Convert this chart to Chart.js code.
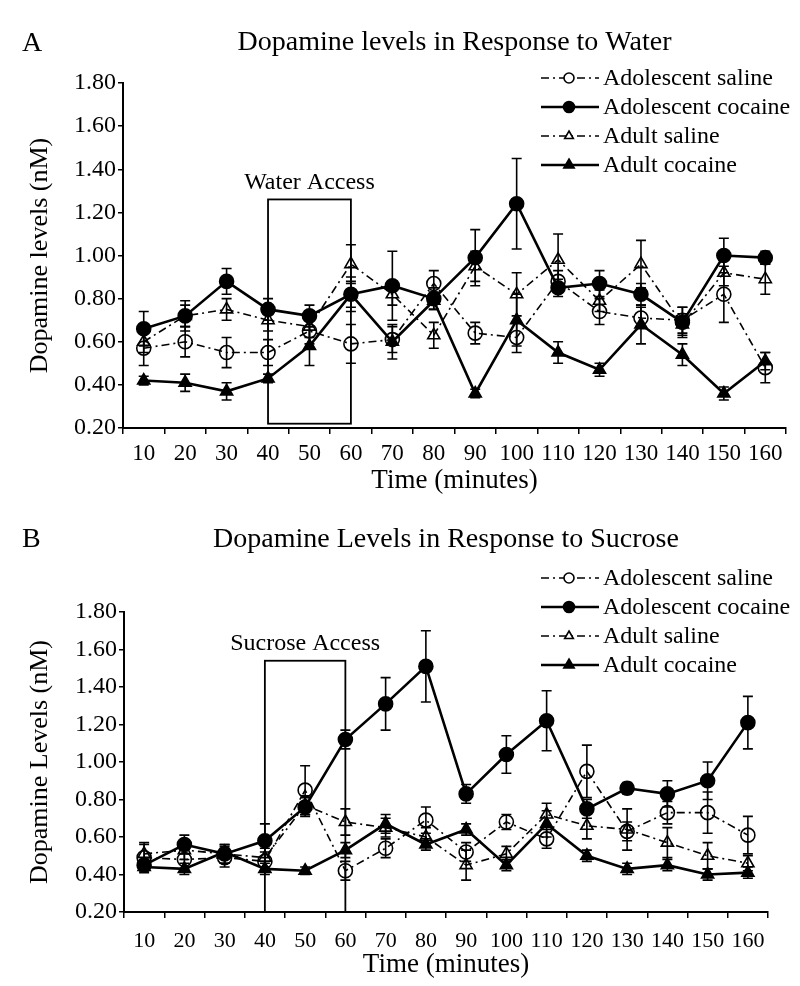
<!DOCTYPE html>
<html>
<head>
<meta charset="utf-8">
<script src="https://cdn.jsdelivr.net/npm/chart.js@4.4.1/dist/chart.umd.min.js"></script>
<style>
  html, body { margin: 0; padding: 0; background: #fff; }
  .panel { position: absolute; left: 0; width: 800px; }
  #panelA { top: 0; height: 495px; }
  #panelB { top: 495px; height: 491px; }
</style>
</head>
<body>
<div class="panel" id="panelA"><canvas id="chartA"></canvas></div>
<div class="panel" id="panelB"><canvas id="chartB"></canvas></div>
<script>
// ---- data ----
const timeLabels = ['10', '20', '30', '40', '50', '60', '70', '80', '90', '100', '110', '120', '130', '140', '150', '160'];
const seriesNames = ['Adolescent saline', 'Adolescent cocaine', 'Adult saline', 'Adult cocaine'];

// A: water
const waterAdolSaline = [0.57, 0.60, 0.55, 0.55, 0.65, 0.59, 0.61, 0.87, 0.64, 0.62, 0.88, 0.74, 0.71, 0.70, 0.82, 0.48];
const waterAdolSalineErr = [0.08, 0.07, 0.07, 0.06, 0.06, 0.09, 0.06, 0.06, 0.05, 0.07, 0.05, 0.06, 0.05, 0.06, 0.13, 0.07];
const waterAdolCocaine = [0.66, 0.72, 0.88, 0.75, 0.72, 0.82, 0.86, 0.80, 0.99, 1.24, 0.85, 0.87, 0.82, 0.69, 1.00, 0.99];
const waterAdolCocaineErr = [0.08, 0.07, 0.06, 0.05, 0.05, 0.06, 0.16, 0.05, 0.13, 0.21, 0.04, 0.06, 0.05, 0.07, 0.08, 0.03];
const waterAdultSaline = [0.60, 0.72, 0.75, 0.70, 0.67, 0.96, 0.82, 0.63, 0.95, 0.82, 0.98, 0.79, 0.96, 0.68, 0.92, 0.89];
const waterAdultSalineErr = [0.05, 0.05, 0.05, 0.05, 0.05, 0.09, 0.05, 0.06, 0.07, 0.10, 0.12, 0.05, 0.11, 0.05, 0.06, 0.07];
const waterAdultCocaine = [0.42, 0.41, 0.37, 0.43, 0.58, 0.82, 0.60, 0.79, 0.36, 0.70, 0.55, 0.47, 0.68, 0.54, 0.36, 0.51];
const waterAdultCocaineErr = [0.02, 0.04, 0.04, 0.02, 0.09, 0.08, 0.08, 0.04, 0.02, 0.12, 0.05, 0.03, 0.09, 0.05, 0.03, 0.04];

// B: sucrose
const sucroseAdolSaline = [0.49, 0.48, 0.49, 0.47, 0.85, 0.42, 0.54, 0.69, 0.52, 0.68, 0.59, 0.95, 0.63, 0.73, 0.73, 0.61];
const sucroseAdolSalineErr = [0.08, 0.05, 0.05, 0.05, 0.13, 0.05, 0.05, 0.07, 0.05, 0.04, 0.05, 0.14, 0.05, 0.06, 0.11, 0.10];
const sucroseAdolCocaine = [0.45, 0.56, 0.51, 0.58, 0.76, 1.12, 1.31, 1.51, 0.83, 1.04, 1.22, 0.75, 0.86, 0.83, 0.90, 1.21];
const sucroseAdolCocaineErr = [0.03, 0.05, 0.05, 0.09, 0.05, 0.05, 0.14, 0.19, 0.05, 0.10, 0.16, 0.05, 0.03, 0.07, 0.10, 0.14];
const sucroseAdultSaline = [0.51, 0.53, 0.51, 0.49, 0.77, 0.68, 0.65, 0.60, 0.45, 0.51, 0.72, 0.66, 0.64, 0.57, 0.50, 0.46];
const sucroseAdultSalineErr = [0.05, 0.05, 0.05, 0.05, 0.05, 0.07, 0.05, 0.05, 0.08, 0.04, 0.06, 0.07, 0.11, 0.08, 0.07, 0.04];
const sucroseAdultCocaine = [0.44, 0.43, 0.52, 0.43, 0.42, 0.53, 0.67, 0.56, 0.64, 0.45, 0.67, 0.50, 0.43, 0.45, 0.40, 0.41];
const sucroseAdultCocaineErr = [0.02, 0.03, 0.03, 0.03, 0.02, 0.04, 0.05, 0.03, 0.03, 0.03, 0.07, 0.03, 0.03, 0.03, 0.03, 0.03];

// access windows: [from label, to label, bottom value, top value]
const waterAccess = ['40', '60', 0.22, 1.26];
const sucroseAccess = ['40', '60', 0.20, 1.54];

const yTicks = [0.2, 0.4, 0.6, 0.8, 1.0, 1.2, 1.4, 1.6, 1.8];

const SERIF = "'Liberation Serif', 'Times New Roman', serif";
const dashDot = [8, 4, 2, 4];

// error bars, access box, panel letter and in-plot legend
const extrasPlugin = {
  id: 'extras',
  beforeDatasetsDraw(chart) {
    const ctx = chart.ctx;
    const x = chart.scales.x, y = chart.scales.y;
    const o = chart.options.plugins.extras;

    // access box
    const bx1 = x.getPixelForValue(timeLabels.indexOf(o.access[0]));
    const bx2 = x.getPixelForValue(timeLabels.indexOf(o.access[1]));
    const by1 = y.getPixelForValue(o.access[2]);
    const by2 = y.getPixelForValue(o.access[3]);
    ctx.save();
    ctx.strokeStyle = '#000';
    ctx.lineWidth = 1.8;
    ctx.strokeRect(bx1, by2, bx2 - bx1, by1 - by2);
    ctx.fillStyle = '#000';
    ctx.font = '24px ' + SERIF;
    ctx.textAlign = 'center';
    ctx.textBaseline = 'bottom';
    ctx.fillText(o.accessLabel, (bx1 + bx2) / 2, by2 - 5);

    // error bars
    ctx.lineWidth = 1.6;
    chart.data.datasets.forEach((ds, di) => {
      const meta = chart.getDatasetMeta(di);
      meta.data.forEach((pt, i) => {
        const e = ds.errors[i];
        const top = y.getPixelForValue(ds.data[i] + e);
        const bot = y.getPixelForValue(ds.data[i] - e);
        ctx.beginPath();
        ctx.moveTo(pt.x, top); ctx.lineTo(pt.x, bot);
        ctx.moveTo(pt.x - 5, top); ctx.lineTo(pt.x + 5, top);
        ctx.moveTo(pt.x - 5, bot); ctx.lineTo(pt.x + 5, bot);
        ctx.stroke();
      });
    });
    ctx.restore();
  },
  afterDraw(chart) {
    const ctx = chart.ctx;
    const o = chart.options.plugins.extras;
    ctx.save();
    ctx.fillStyle = '#000';
    ctx.font = '28px ' + SERIF;
    ctx.textAlign = 'left';
    ctx.textBaseline = 'middle';
    ctx.fillText(o.letter, 22, o.letterY);

    // legend
    ctx.font = '24px ' + SERIF;
    chart.data.datasets.forEach((ds, i) => {
      const ly = o.legendY + i * 29;
      const lx = o.legendX;
      ctx.strokeStyle = '#000';
      ctx.lineWidth = ds.borderWidth;
      ctx.setLineDash(ds.borderDash || []);
      ctx.beginPath();
      ctx.moveTo(lx, ly); ctx.lineTo(lx + 58, ly);
      ctx.stroke();
      ctx.setLineDash([]);
      ctx.fillStyle = ds.pointBackgroundColor === '#000' ? '#000' : '#fff';
      Chart.helpers.drawPoint(ctx, {
        pointStyle: ds.pointStyle, radius: 5, borderWidth: 1.5, rotation: 0
      }, lx + 28, ly);
      ctx.fillStyle = '#000';
      ctx.textBaseline = 'middle';
      ctx.fillText(ds.label, lx + 62, ly + 1);
    });
    ctx.restore();
  }
};

function makeDatasets(vals, errs) {
  const styles = [
    { pointStyle: 'circle', filled: false, dash: dashDot, width: 1.6 },
    { pointStyle: 'circle', filled: true, dash: [], width: 2.6 },
    { pointStyle: 'triangle', filled: false, dash: dashDot, width: 1.6 },
    { pointStyle: 'triangle', filled: true, dash: [], width: 2.6 }
  ];
  return vals.map((v, i) => ({
    label: seriesNames[i],
    data: v,
    errors: errs[i],
    borderColor: '#000',
    borderWidth: styles[i].width,
    borderDash: styles[i].dash,
    pointStyle: styles[i].pointStyle,
    pointRadius: 7,
    pointBorderWidth: 1.6,
    pointBorderColor: '#000',
    pointBackgroundColor: styles[i].filled ? '#000' : 'rgba(0,0,0,0)',
    tension: 0,
    fill: false
  }));
}

function makePanel(canvasId, p) {
  return new Chart(document.getElementById(canvasId), {
    type: 'line',
    data: { labels: timeLabels, datasets: makeDatasets(p.vals, p.errs) },
    plugins: [extrasPlugin],
    options: {
      responsive: true,
      maintainAspectRatio: false,
      animation: false,
      layout: { padding: { top: 0, left: 0, right: p.padRight, bottom: 0 } },
      plugins: {
        legend: { display: false },
        tooltip: { enabled: false },
        title: {
          display: true,
          text: p.title,
          fullSize: false,
          color: '#000',
          font: { family: SERIF, size: 28, weight: 'normal', lineHeight: 1.2 },
          padding: { top: p.titleTop, bottom: p.titleBottom }
        },
        extras: p.extras
      },
      scales: {
        x: {
          type: 'category',
          offset: true,
          afterFit: (s) => { s.height = p.xHeight; },
          grid: { offset: true, drawOnChartArea: false, drawTicks: true, tickLength: 6, color: '#000', lineWidth: 1.5 },
          border: { display: true, color: '#000', width: 2 },
          ticks: { color: '#000', font: { family: SERIF, size: p.xTickSize }, padding: p.xTickPad, maxRotation: 0, autoSkip: false },
          title: {
            display: true, text: 'Time (minutes)', color: '#000',
            font: { family: SERIF, size: 27, lineHeight: 1 },
            padding: { top: 0, bottom: p.xTitlePad }
          }
        },
        y: {
          min: 0.2,
          max: 1.8,
          afterFit: (s) => { s.width = p.yWidth; },
          afterBuildTicks: (s) => { s.ticks = yTicks.map(v => ({ value: v })); },
          grid: { drawOnChartArea: false, drawTicks: true, tickLength: 5, color: '#000', lineWidth: 1.5 },
          border: { display: true, color: '#000', width: 2 },
          ticks: { color: '#000', font: { family: SERIF, size: 24 }, padding: 2, callback: (v) => Number(v).toFixed(2) },
          title: {
            display: true, text: p.yTitle, color: '#000',
            font: { family: SERIF, size: 26, lineHeight: 1 },
            padding: { top: 27, bottom: 0 }
          }
        }
      }
    }
  });
}

makePanel('chartA', {
  title: 'Dopamine levels in Response to Water',
  yTitle: 'Dopamine levels (nM)',
  vals: [waterAdolSaline, waterAdolCocaine, waterAdultSaline, waterAdultCocaine],
  errs: [waterAdolSalineErr, waterAdolCocaineErr, waterAdultSalineErr, waterAdultCocaineErr],
  padRight: 14, titleTop: 26, titleBottom: 23.4,
  xHeight: 67, xTickSize: 23, xTickPad: 6, xTitlePad: 0.5, yWidth: 123,
  extras: { access: waterAccess, accessLabel: 'Water Access', letter: 'A', letterY: 44, legendX: 541, legendY: 78 }
});

makePanel('chartB', {
  title: 'Dopamine Levels in Response to Sucrose',
  yTitle: 'Dopamine Levels (nM)',
  vals: [sucroseAdolSaline, sucroseAdolCocaine, sucroseAdultSaline, sucroseAdultCocaine],
  errs: [sucroseAdolSalineErr, sucroseAdolCocaineErr, sucroseAdultSalineErr, sucroseAdultCocaineErr],
  padRight: 32, titleTop: 28, titleBottom: 55.4,
  xHeight: 74, xTickSize: 22, xTickPad: 10, xTitlePad: 7.5, yWidth: 124,
  extras: { access: sucroseAccess, accessLabel: 'Sucrose Access', letter: 'B', letterY: 45, legendX: 541, legendY: 83 }
});
</script>
</body>
</html>
